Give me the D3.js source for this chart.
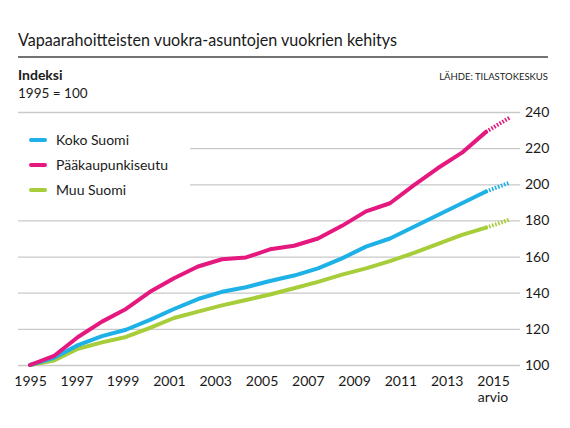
<!DOCTYPE html>
<html>
<head>
<meta charset="utf-8">
<script src="https://cdn.jsdelivr.net/npm/d3@7"></script>
<style>
  body { margin: 0; background: #fff; }
  svg text { font-family: Lato, "Open Sans", sans-serif; fill: #1a1a1a; }
</style>
</head>
<body>
<svg id="chart" width="570" height="428"></svg>
<script>
var years = d3.range(1995, 2016);
var koko = [100, 104, 111, 116, 119.5, 125, 131, 136.5, 140.5, 143, 146.5, 149.5, 153.5, 159, 165.5, 170, 176.5, 183, 189.5, 196, 201];
var paak = [100, 105, 115.5, 124, 131, 140.5, 148, 154.5, 158.5, 159.5, 164, 166, 170, 177, 185, 189.5, 199.5, 209, 217.5, 229, 237];
var muu = [100, 102.5, 109, 112.5, 115.5, 120.5, 126, 129.5, 133, 136, 139, 142.5, 146, 150, 153.5, 157.5, 162, 167, 172, 176, 180.5];
var seriesNames = ["Koko Suomi", "Pääkaupunkiseutu", "Muu Suomi"];
var seriesColors = ["#1db1e7", "#e4187f", "#a7cd3a"];
var yTicks = [100, 120, 140, 160, 180, 200, 220, 240];
var xTicks = [1995, 1997, 1999, 2001, 2003, 2005, 2007, 2009, 2011, 2013, 2015];

var svg = d3.select("#chart");

// title + rule
svg.append("text")
  .attr("x", 18).attr("y", 46)
  .attr("font-size", 18)
  .attr("textLength", 379)
  .attr("lengthAdjust", "spacingAndGlyphs")
  .text("Vapaarahoitteisten vuokra-asuntojen vuokrien kehitys");

svg.append("line")
  .attr("x1", 18).attr("x2", 548)
  .attr("y1", 57).attr("y2", 57)
  .attr("stroke", "#444").attr("stroke-width", 1.4);

svg.append("text")
  .attr("x", 18).attr("y", 80)
  .attr("font-size", 14).attr("font-weight", "bold")
  .text("Indeksi");

svg.append("text")
  .attr("x", 18).attr("y", 98)
  .attr("font-size", 13.5)
  .text("1995 = 100");

svg.append("text")
  .attr("x", 548).attr("y", 80)
  .attr("font-size", 9.5)
  .attr("text-anchor", "end")
  .text("LÄHDE: TILASTOKESKUS");

var x = d3.scaleLinear().domain([1995, 2015]).range([30, 510]);
// year labels in the original sit on a slightly tighter grid than the data
var xLab = d3.scaleLinear().domain([1995, 2015]).range([30, 493]);
var y = d3.scaleLinear().domain([100, 240]).range([365, 112]);

// gridlines + right labels
var yAxis = d3.axisRight(y)
  .tickValues(yTicks)
  .tickSize(502)
  .tickPadding(5);

var gy = svg.append("g")
  .attr("transform", "translate(18,0)")
  .call(yAxis);
gy.select(".domain").remove();
gy.selectAll(".tick line").attr("stroke", "#c9c9c9").attr("stroke-width", 1.3);
gy.selectAll(".tick text")
  .attr("font-size", 14)
  .attr("fill", "#1a1a1a")
  .attr("font-family", "Lato, 'Open Sans', sans-serif");

// year labels
var xAxis = d3.axisBottom(xLab)
  .tickValues(xTicks)
  .tickFormat(d3.format("d"))
  .tickSize(0)
  .tickPadding(0);

var gx = svg.append("g")
  .attr("transform", "translate(0,376)")
  .call(xAxis);
gx.select(".domain").remove();
gx.selectAll(".tick text")
  .attr("font-size", 14)
  .attr("fill", "#1a1a1a")
  .attr("font-family", "Lato, 'Open Sans', sans-serif");

svg.append("text")
  .attr("x", xLab(2015)).attr("y", 402)
  .attr("font-size", 14)
  .attr("text-anchor", "middle")
  .text("arvio");

// legend box (hides gridlines behind it)
svg.append("rect")
  .attr("x", 18).attr("y", 124)
  .attr("width", 172).attr("height", 76)
  .attr("fill", "#fff");

var legend = svg.append("g").selectAll("g")
  .data(seriesNames)
  .enter().append("g")
  .attr("transform", function(d, i) { return "translate(0," + (140 + i * 25) + ")"; });

legend.append("line")
  .attr("x1", 31).attr("x2", 45)
  .attr("stroke", function(d, i) { return seriesColors[i]; })
  .attr("stroke-width", 4)
  .attr("stroke-linecap", "round");

legend.append("text")
  .attr("x", 56).attr("y", 5)
  .attr("font-size", 14)
  .text(function(d) { return d; });

// lines
var seriesValues = [koko, paak, muu];
var drawOrder = [2, 0, 1];

var line = d3.line()
  .x(function(d) { return x(d.year); })
  .y(function(d) { return y(d.value); });

drawOrder.forEach(function(s) {
  var pts = years.map(function(yr, i) { return { year: yr, value: seriesValues[s][i] }; });
  var solid = pts.slice(0, pts.length - 1);
  var est = pts.slice(pts.length - 2);

  svg.append("path")
    .datum(solid)
    .attr("d", line)
    .attr("fill", "none")
    .attr("stroke", seriesColors[s])
    .attr("stroke-width", 4)
    .attr("stroke-linejoin", "round")
    .attr("stroke-linecap", "round");

  svg.append("path")
    .datum(est)
    .attr("d", line)
    .attr("fill", "none")
    .attr("stroke", seriesColors[s])
    .attr("stroke-width", 4)
    .attr("stroke-dasharray", "1.6,1.6");
});
</script>
</body>
</html>
